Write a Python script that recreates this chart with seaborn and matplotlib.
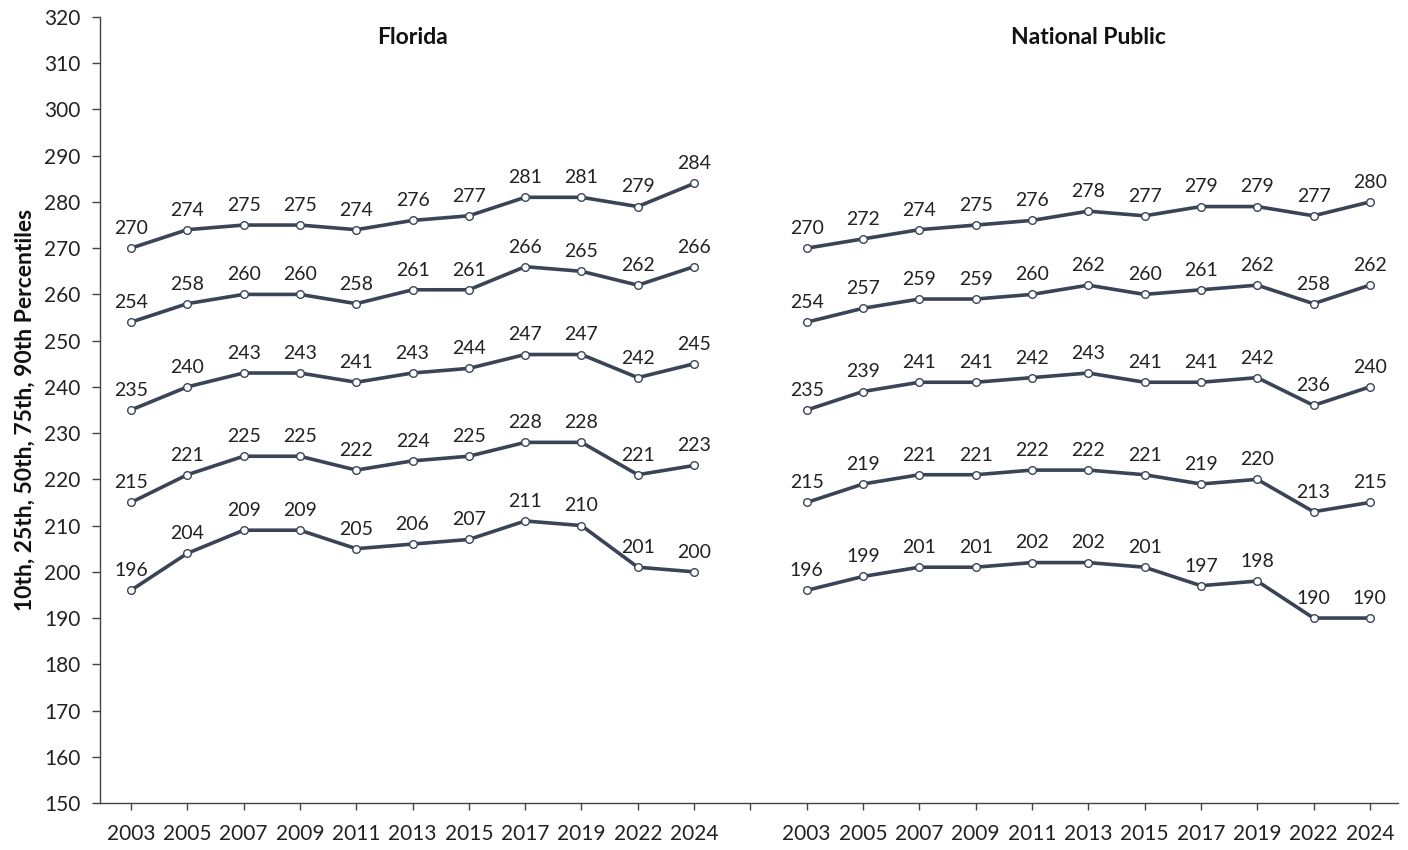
import matplotlib
matplotlib.use("Agg")
import matplotlib.pyplot as plt
import seaborn as sns
import pandas as pd

years = ["2003", "2005", "2007", "2009", "2011", "2013", "2015", "2017", "2019", "2022", "2024"]
percentiles = ["90th", "75th", "50th", "25th", "10th"]

florida_90 = [270, 274, 275, 275, 274, 276, 277, 281, 281, 279, 284]
florida_75 = [254, 258, 260, 260, 258, 261, 261, 266, 265, 262, 266]
florida_50 = [235, 240, 243, 243, 241, 243, 244, 247, 247, 242, 245]
florida_25 = [215, 221, 225, 225, 222, 224, 225, 228, 228, 221, 223]
florida_10 = [196, 204, 209, 209, 205, 206, 207, 211, 210, 201, 200]

national_90 = [270, 272, 274, 275, 276, 278, 277, 279, 279, 277, 280]
national_75 = [254, 257, 259, 259, 260, 262, 260, 261, 262, 258, 262]
national_50 = [235, 239, 241, 241, 242, 243, 241, 241, 242, 236, 240]
national_25 = [215, 219, 221, 221, 222, 222, 221, 219, 220, 213, 215]
national_10 = [196, 199, 201, 201, 202, 202, 201, 197, 198, 190, 190]

groups = {
    "Florida": [florida_90, florida_75, florida_50, florida_25, florida_10],
    "National Public": [national_90, national_75, national_50, national_25, national_10],
}

sns.set_theme(style="ticks")
plt.rcParams["font.family"] = ["Lato", "DejaVu Sans"]

rows = []
n = len(years)
for gi, (gname, series) in enumerate(groups.items()):
    offset = gi * (n + 1)
    for pname, vals in zip(percentiles, series):
        for i, v in enumerate(vals):
            rows.append({"group": gname, "pct": pname, "pos": offset + i, "value": v})
df = pd.DataFrame(rows)

fig = plt.figure(figsize=(14.08, 8.5), dpi=100)
ax = fig.add_axes([100 / 1408, 1 - 803 / 850, 1298 / 1408, (803 - 17) / 850])

line_color = "#3B4457"
for (gname, pname), sub in df.groupby(["group", "pct"], sort=False):
    sns.lineplot(data=sub, x="pos", y="value", ax=ax, color=line_color, linewidth=2.6,
                 marker="o", markersize=5.5, markerfacecolor="white",
                 markeredgecolor=line_color, markeredgewidth=1.0, legend=False)
    for _, r in sub.iterrows():
        ax.annotate(f"{r['value']}", (r["pos"], r["value"]), xytext=(0, 8),
                    textcoords="offset points", ha="center", va="bottom",
                    fontsize=14, color="#222222")

for gi, gname in enumerate(groups):
    cx = gi * (n + 1) + (n - 1) / 2
    ax.text(cx, 315.5, gname, ha="center", va="center", fontsize=16.5,
            fontweight="bold", color="#111111")

ticks = list(range(0, 2 * n + 1))
labels = years + [""] + years
ax.set_xticks(ticks)
ax.set_xticklabels(labels, fontsize=15, color="#222222")
ax.set_xlim(-0.55, 2 * n + 0.5)
ax.set_ylim(150, 320)
ax.set_yticks(range(150, 321, 10))
ax.tick_params(axis="y", labelsize=15, colors="#222222", length=6, width=1, color="#444444", pad=8)
ax.tick_params(axis="x", length=5, width=1, color="#444444", pad=10)
ax.set_xlabel("")
ax.set_ylabel("10th, 25th, 50th, 75th, 90th Percentiles", fontsize=16.5,
              fontweight="bold", color="#111111", labelpad=6)
sns.despine(ax=ax)
for s in ["left", "bottom"]:
    ax.spines[s].set_color("#444444")
    ax.spines[s].set_linewidth(1)

fig.savefig("out.png", dpi=100)
